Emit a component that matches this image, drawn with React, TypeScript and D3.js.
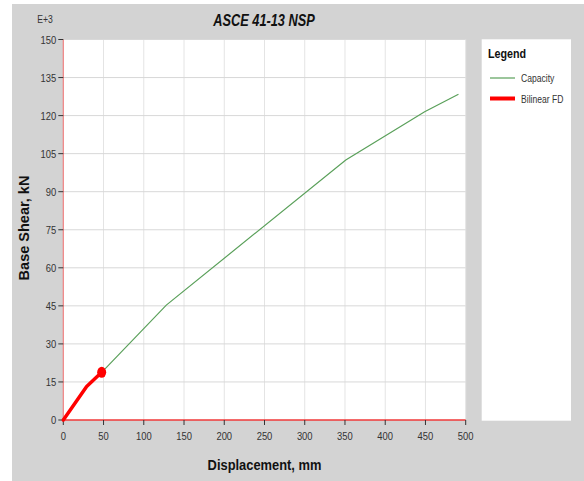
import React from "react";
import * as d3 from "d3";

const capacityX = [0, 29, 47.7, 128, 351, 449, 491];
const capacityY = [0, 13.2, 18.8, 45.3, 102.5, 121.5, 128.4];
const bilinearX = [0, 29, 47.7];
const bilinearY = [0, 13.2, 18.8];
const xTicks = [0, 50, 100, 150, 200, 250, 300, 350, 400, 450, 500];
const yTicks = [0, 15, 30, 45, 60, 75, 90, 105, 120, 135, 150];
const title = "ASCE 41-13 NSP";
const xLabel = "Displacement, mm";
const yLabel = "Base Shear, kN";
const legendItems = ["Capacity", "Bilinear FD"];

const W = 584;
const H = 481;
const FONT = "'Liberation Sans', Arial, sans-serif";

type TProps = {
  x: number;
  y: number;
  sx?: number;
  rotate?: number;
  anchor?: "start" | "middle" | "end";
  size: number;
  bold?: boolean;
  italic?: boolean;
  fill?: string;
  children: React.ReactNode;
};

function T({ x, y, sx = 0.82, rotate = 0, anchor = "start", size, bold, italic, fill = "#333", children }: TProps) {
  return (
    <text
      transform={`translate(${x},${y}) rotate(${rotate}) scale(${sx},1)`}
      textAnchor={anchor}
      fontFamily={FONT}
      fontSize={size}
      fontWeight={bold ? "bold" : "normal"}
      fontStyle={italic ? "italic" : "normal"}
      fill={fill}
    >
      {children}
    </text>
  );
}

export default function App() {
  const x = d3.scaleLinear().domain([0, 500]).range([63.3, 465.7]);
  const y = d3.scaleLinear().domain([0, 150]).range([420, 39.5]);
  const line = d3
    .line<[number, number]>()
    .x((d) => x(d[0]))
    .y((d) => y(d[1]));
  const cap: [number, number][] = capacityX.map((v, i) => [v, capacityY[i]]);
  const bil: [number, number][] = bilinearX.map((v, i) => [v, bilinearY[i]]);
  const last = bil[bil.length - 1];

  return (
    <svg width={W} height={H} style={{ position: "absolute", left: 0, top: 0 }}>
      <rect x={0} y={0} width={W} height={H} fill="#ffffff" />
      <rect x={12} y={4} width={W - 12} height={H - 4} fill="#d3d3d3" />
      <rect
        x={x(0)}
        y={y(150)}
        width={x(500) - x(0)}
        height={y(0) - y(150)}
        fill="#ffffff"
      />
      {xTicks.slice(1).map((t) => (
        <line key={"gx" + t} x1={x(t)} x2={x(t)} y1={y(0)} y2={y(150)} stroke="#e4e4e4" strokeWidth={1} />
      ))}
      {yTicks.slice(1).map((t) => (
        <line key={"gy" + t} x1={x(0)} x2={x(500)} y1={y(t)} y2={y(t)} stroke="#d8d8d8" strokeWidth={1} />
      ))}
      <line x1={x(0)} x2={x(0)} y1={y(0)} y2={y(150)} stroke="#f08080" strokeWidth={1.2} />
      <line x1={x(0)} x2={x(500)} y1={y(0)} y2={y(0)} stroke="#f03838" strokeWidth={1.3} />
      {yTicks.map((t) => (
        <g key={"ty" + t}>
          <line x1={x(0) - 5} x2={x(0)} y1={y(t)} y2={y(t)} stroke="#333" strokeWidth={1} />
          <T x={x(0) - 7} y={y(t) + 4} anchor="end" size={11.5}>
            {t}
          </T>
        </g>
      ))}
      {xTicks.map((t) => (
        <g key={"tx" + t}>
          <line x1={x(t)} x2={x(t)} y1={y(0)} y2={y(0) + 5} stroke="#333" strokeWidth={1} />
          <T x={x(t)} y={y(0) + 20} anchor="middle" size={11.5}>
            {t}
          </T>
        </g>
      ))}
      <T x={45} y={23} anchor="middle" size={10.5}>
        E+3
      </T>
      <path d={line(cap) || ""} fill="none" stroke="#5aa05a" strokeWidth={1.2} />
      <path
        d={line(bil) || ""}
        fill="none"
        stroke="#ff0000"
        strokeWidth={3.5}
        strokeLinejoin="round"
        strokeLinecap="round"
      />
      <ellipse cx={x(last[0])} cy={y(last[1])} rx={4.5} ry={5.5} fill="#ff0000" />
      <T x={264} y={26} anchor="middle" size={16} sx={0.8} bold italic fill="#111">
        {title}
      </T>
      <T x={264.5} y={470} anchor="middle" size={15} sx={0.86} bold fill="#111">
        {xLabel}
      </T>
      <T x={29} y={228} rotate={-90} anchor="middle" size={14.5} sx={1} bold fill="#111">
        {yLabel}
      </T>
      <rect x={481.7} y={39.3} width={89.3} height={381.4} fill="#ffffff" />
      <T x={488} y={58} size={12.5} sx={0.86} bold fill="#111">
        Legend
      </T>
      <line x1={490} x2={515} y1={78} y2={78} stroke="#5aa05a" strokeWidth={1.2} />
      <T x={521} y={81.5} size={11} sx={0.78}>
        {legendItems[0]}
      </T>
      <line x1={490} x2={515} y1={98.5} y2={98.5} stroke="#ff0000" strokeWidth={4} />
      <T x={521} y={102.5} size={11} sx={0.78}>
        {legendItems[1]}
      </T>
    </svg>
  );
}
